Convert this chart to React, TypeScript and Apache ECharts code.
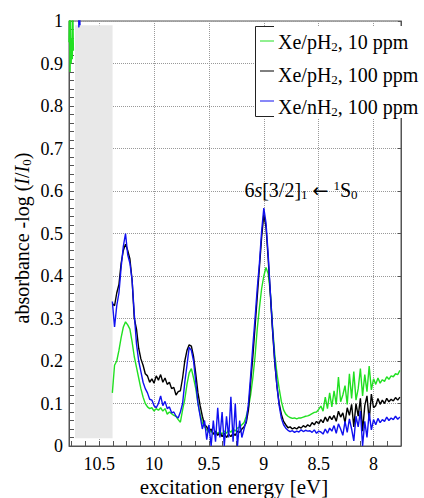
import React, { useEffect, useRef } from 'react';
import * as echarts from 'echarts';

const FONT = 'Liberation Serif';

// excitation energy grid (eV) for main traces
const energy = [
  10.38, 10.36, 10.34, 10.32, 10.30, 10.28, 10.26, 10.24, 10.22, 10.20,
  10.18, 10.16, 10.14, 10.12, 10.10, 10.08, 10.06, 10.04, 10.02, 10.00,
  9.98, 9.96, 9.94, 9.92, 9.90, 9.88, 9.86, 9.84, 9.82, 9.80,
  9.78, 9.76, 9.74, 9.72, 9.70, 9.68, 9.66, 9.64, 9.62, 9.60,
  9.58, 9.56, 9.54, 9.52, 9.50, 9.48, 9.46, 9.44, 9.42, 9.40,
  9.38, 9.36, 9.34, 9.32, 9.30, 9.28, 9.26, 9.24, 9.22, 9.20,
  9.18, 9.16, 9.14, 9.12, 9.10, 9.08, 9.06, 9.04, 9.02, 9.00,
  8.98, 8.96, 8.94, 8.92, 8.90, 8.88, 8.86, 8.84, 8.82, 8.80,
  8.78, 8.76, 8.74, 8.72, 8.70, 8.68, 8.66, 8.64, 8.62, 8.60,
  8.58, 8.56, 8.54, 8.52, 8.50, 8.48, 8.46, 8.44, 8.42, 8.40,
  8.38, 8.36, 8.34, 8.32, 8.30, 8.28, 8.26, 8.24, 8.22, 8.20,
  8.18, 8.16, 8.14, 8.12, 8.10, 8.08, 8.06, 8.04, 8.02, 8.00,
  7.98, 7.96, 7.94, 7.92, 7.90, 7.88, 7.86, 7.84, 7.82, 7.80,
  7.78, 7.76,
];

// Xe/pH2, 10 ppm (green)
const pH2_10 = [
  0.125, 0.19, 0.2, 0.225, 0.255, 0.28, 0.292, 0.285, 0.275, 0.245,
  0.21, 0.185, 0.16, 0.135, 0.115, 0.1, 0.092, 0.088, 0.09, 0.082,
  0.088, 0.084, 0.09, 0.082, 0.088, 0.075, 0.08, 0.076, 0.072, 0.07,
  0.062, 0.056, 0.085, 0.11, 0.145, 0.172, 0.182, 0.16, 0.135, 0.1,
  0.075, 0.055, 0.045, 0.038, 0.032, 0.035, 0.028, 0.033, 0.03, 0.034,
  0.028, 0.035, 0.03, 0.038, 0.032, 0.04, 0.035, 0.042, 0.045, 0.05,
  0.055, 0.07, 0.09, 0.12, 0.16, 0.21, 0.275, 0.325, 0.37, 0.4,
  0.42, 0.405, 0.36, 0.28, 0.215, 0.17, 0.135, 0.105, 0.085, 0.075,
  0.07, 0.067, 0.065, 0.066, 0.064, 0.066, 0.066, 0.068, 0.07, 0.071,
  0.073, 0.076, 0.079, 0.08, 0.086, 0.094, 0.082, 0.115, 0.088, 0.125,
  0.092, 0.13, 0.098, 0.162, 0.104, 0.12, 0.142, 0.098, 0.17, 0.112,
  0.175, 0.108, 0.135, 0.182, 0.118, 0.168, 0.128, 0.188, 0.132, 0.158,
  0.145, 0.16, 0.148, 0.156, 0.152, 0.163, 0.157, 0.165, 0.163, 0.17,
  0.168, 0.178,
];

// Xe/pH2, 100 ppm (black)
const pH2_100 = [
  0.335, 0.33, 0.36, 0.38, 0.43, 0.46, 0.475, 0.46, 0.44, 0.39,
  0.30, 0.275, 0.23, 0.205, 0.19, 0.17, 0.165, 0.15, 0.158, 0.148,
  0.165, 0.155, 0.168, 0.15, 0.16, 0.145, 0.15, 0.135, 0.138, 0.12,
  0.128, 0.13, 0.16, 0.2, 0.225, 0.238, 0.235, 0.21, 0.17, 0.125,
  0.095, 0.07, 0.05, 0.045, 0.035, 0.04, 0.028, 0.035, 0.025, 0.032,
  0.022, 0.03, 0.02, 0.028, 0.022, 0.03, 0.025, 0.035, 0.032, 0.04,
  0.045, 0.055, 0.085, 0.15, 0.21, 0.28, 0.35, 0.42, 0.49, 0.545,
  0.515, 0.44, 0.355, 0.27, 0.195, 0.14, 0.1, 0.075, 0.058, 0.05,
  0.043, 0.045, 0.04, 0.043, 0.04, 0.045, 0.042, 0.048, 0.044, 0.05,
  0.046, 0.055, 0.05, 0.058, 0.052, 0.062, 0.055, 0.068, 0.058, 0.07,
  0.062, 0.072, 0.058, 0.082, 0.068, 0.078, 0.055, 0.09, 0.072, 0.098,
  0.045, 0.1, 0.07, 0.112, 0.035, 0.095, 0.118, 0.06, 0.122, 0.09,
  0.095, 0.112, 0.098, 0.108, 0.1, 0.112, 0.104, 0.11, 0.106, 0.114,
  0.108, 0.115,
];

// Xe/nH2, 100 ppm (blue)
const nH2_100 = [
  0.34, 0.28, 0.33, 0.36, 0.42, 0.47, 0.5, 0.45, 0.43, 0.39,
  0.31, 0.24, 0.2, 0.175, 0.15, 0.135, 0.125, 0.11, 0.108, 0.095,
  0.09, 0.1, 0.118, 0.095, 0.105, 0.088, 0.092, 0.078, 0.08, 0.07,
  0.066, 0.08, 0.1, 0.15, 0.19, 0.232, 0.225, 0.2, 0.15, 0.1,
  0.07, 0.04, 0.06, 0.015, 0.05, 0.0, 0.06, 0.01, 0.09, 0.02,
  0.08, 0.0, 0.07, 0.02, 0.116, 0.01, 0.1, 0.0, 0.06, 0.02,
  0.04, 0.06, 0.1, 0.165, 0.235, 0.3, 0.37, 0.43, 0.505, 0.56,
  0.525, 0.45, 0.36, 0.275, 0.2, 0.14, 0.095, 0.065, 0.05, 0.042,
  0.037, 0.034, 0.036, 0.032, 0.035, 0.033, 0.038, 0.034, 0.037, 0.035,
  0.036, 0.032, 0.038, 0.03, 0.035, 0.033, 0.028, 0.04, 0.03, 0.042,
  0.035, 0.048, 0.03, 0.052, 0.04, 0.025, 0.058, 0.032, 0.064, 0.04,
  0.012, 0.07, 0.045, 0.082, 0.0, 0.058, 0.02, 0.078, 0.038, 0.062,
  0.05, 0.065, 0.055, 0.062, 0.058, 0.068, 0.06, 0.066, 0.062, 0.07,
  0.063, 0.068,
];

// short saturated segments at the high-energy edge
const greenEdgeEnergy = [10.775, 10.77, 10.765, 10.76, 10.755, 10.75, 10.745, 10.74, 10.735];
const greenEdge = [0.95, 1.02, 0.88, 1.02, 0.9, 0.96, 0.91, 1.02, 0.93];
const blueEdgeEnergy = [10.69, 10.685, 10.68, 10.675];
const blueEdge = [1.05, 0.985, 1.05, 0.99];

const xGridValues = [8, 8.5, 9, 9.5, 10, 10.5];
const greyBand = { from: 10.72, to: 10.378, bottom: 0.018, top: 0.99 };

const seriesNames = ['Xe/pH2, 10 ppm', 'Xe/pH2, 100 ppm', 'Xe/nH2, 100 ppm'];
const colors = ['#22e022', '#000000', '#1010f0'];

function pairs(xs: number[], ys: number[]) {
  return xs.map((x, i) => [x, ys[i]]);
}

function build(values: number[], edgeX?: number[], edgeY?: number[]) {
  const out: any[] = [];
  if (edgeX && edgeY) {
    out.push(...pairs(edgeX, edgeY));
    out.push([10.55, null]);
  }
  out.push(...pairs(energy, values));
  return out;
}

const fmt = (v: number) => String(parseFloat(v.toFixed(3)));

export default function App() {
  const ref = useRef<HTMLDivElement>(null);
  useEffect(() => {
    const chart = echarts.init(ref.current!, null, { renderer: 'svg' });
    const sub = (size: number) => ({ fontSize: size, fontFamily: FONT, fill: '#000', padding: [Math.round(size * 0.7), 0, 0, 0] });
    const sup = (size: number) => ({ fontSize: size, fontFamily: FONT, fill: '#000', padding: [0, 0, Math.round(size * 0.7), 0] });
    const nrm = (size: number) => ({ fontSize: size, fontFamily: FONT, fill: '#000' });
    const ita = (size: number) => ({ fontSize: size, fontFamily: FONT, fontStyle: 'italic', fill: '#000' });

    const lineSeries = [
      { values: pH2_10, ex: greenEdgeEnergy, ey: greenEdge },
      { values: pH2_100 },
      { values: nH2_100, ex: blueEdgeEnergy, ey: blueEdge },
    ].map((s: any, i) => ({
      name: seriesNames[i],
      type: 'line',
      data: build(s.values, s.ex, s.ey),
      showSymbol: false,
      symbol: 'none',
      connectNulls: false,
      z: 3,
      lineStyle: { color: colors[i], width: 1.4 },
      itemStyle: { color: colors[i] },
    }));

    const tickStyle = { color: '#555' };
    const option: any = {
      animation: false,
      grid: { left: 69, right: 23, top: 21, bottom: 52, show: true, borderColor: '#555', borderWidth: 1 },
      xAxis: {
        type: 'value', inverse: true, min: 7.75, max: 10.775, interval: 0.125,
        axisLine: { show: true, onZero: false, lineStyle: tickStyle },
        axisTick: { show: true, inside: true, length: 5, lineStyle: tickStyle },
        axisLabel: {
          formatter: (v: number) => (Math.abs(v * 2 - Math.round(v * 2)) < 1e-6 ? fmt(v) : ''),
          fontFamily: FONT, fontSize: 18, color: '#000', margin: 9,
        },
        splitLine: { show: false },
      },
      yAxis: [
        {
          type: 'value', min: 0, max: 1, interval: 0.1,
          axisLine: { show: true, lineStyle: tickStyle },
          axisTick: { show: true, inside: true, length: 5, lineStyle: tickStyle },
          minorTick: { show: true, splitNumber: 5, length: 5, lineStyle: tickStyle },
          axisLabel: { formatter: (v: number) => fmt(v), fontFamily: FONT, fontSize: 18, color: '#000', margin: 6 },
          splitLine: { show: true, lineStyle: { type: 'dotted', color: '#999', width: 1 } },
        },
        {
          type: 'value', min: 0, max: 1, interval: 0.1, position: 'right',
          axisLine: { show: true, lineStyle: tickStyle },
          axisTick: { show: true, inside: true, length: 3, lineStyle: tickStyle },
          axisLabel: { show: false },
          splitLine: { show: false },
        },
      ],
      series: [
        {
          type: 'line', data: [], z: 0, silent: true,
          markLine: {
            z: 0, silent: true, symbol: ['none', 'none'], label: { show: false },
            lineStyle: { type: 'dotted', color: '#999', width: 1 },
            data: xGridValues.map((v) => ({ xAxis: v })),
          },
        },
        {
          type: 'line', data: [], z: 2, silent: true,
          markArea: {
            z: 2, silent: true, itemStyle: { color: '#e8e8e8', opacity: 1 },
            data: [[{ xAxis: greyBand.from, yAxis: greyBand.bottom }, { xAxis: greyBand.to, yAxis: greyBand.top }]],
          },
        },
        ...lineSeries,
      ],
      graphic: [
        { type: 'rect', z: 100, shape: { x: 255, y: 26, width: 169, height: 92 }, style: { fill: '#fff' } },
        { type: 'polyline', z: 101, shape: { points: [[274, 26.5], [255.5, 26.5], [255.5, 116.5], [274, 116.5]] }, style: { stroke: '#222', lineWidth: 1, fill: null } },
        ...[41, 71, 101].map((y, i) => ({
          type: 'line', z: 101, shape: { x1: 260, y1: y, x2: 274, y2: y }, style: { stroke: colors[i], lineWidth: 1 },
        })),
        ...[
          '{n|Xe/pH}{s|2}{n|, 10 ppm}',
          '{n|Xe/pH}{s|2}{n|, 100 ppm}',
          '{n|Xe/nH}{s|2}{n|, 100 ppm}',
        ].map((t, i) => ({
          type: 'text', z: 101, x: 278, y: [42, 74.5, 107][i],
          style: {
            text: t,
            fontFamily: FONT, fontSize: 20, fill: '#000', verticalAlign: 'middle', align: 'left',
            rich: { n: nrm(20), s: sub(13) },
          },
        })),
        {
          type: 'text', z: 101, x: 301, y: 190,
          style: {
            text: '{n|6}{i|s}{n|[3/2]}{s|1}{n| }{a|←}{n| }{u|1}{n|S}{s|0}',
            fontFamily: FONT, fontSize: 20, fill: '#000', align: 'center', verticalAlign: 'middle',
            rich: {
              n: nrm(20), i: ita(20), s: sub(13), u: sup(13),
              a: { fontSize: 19, fontFamily: 'DejaVu Sans', fill: '#000' },
            },
          },
        },
        {
          type: 'text', z: 101, x: 234, y: 487,
          style: {
            text: '{n|excitation energy [eV]}',
            fontFamily: FONT, fontSize: 21, fill: '#000', align: 'center', verticalAlign: 'middle',
            rich: { n: nrm(21) },
          },
        },
        {
          type: 'text', z: 101, x: 22, y: 238, rotation: Math.PI / 2,
          style: {
            text: '{n|absorbance -log (}{i|I}{n|/}{i|I}{s|0}{n|)}',
            fontFamily: FONT, fontSize: 20, fill: '#000', align: 'center', verticalAlign: 'middle',
            rich: { n: nrm(20), i: ita(20), s: sub(13) },
          },
        },
      ],
    };
    chart.setOption(option);
    return () => chart.dispose();
  }, []);
  return <div ref={ref} style={{ position: 'absolute', left: 0, top: 0, width: 424, height: 498 }} />;
}
